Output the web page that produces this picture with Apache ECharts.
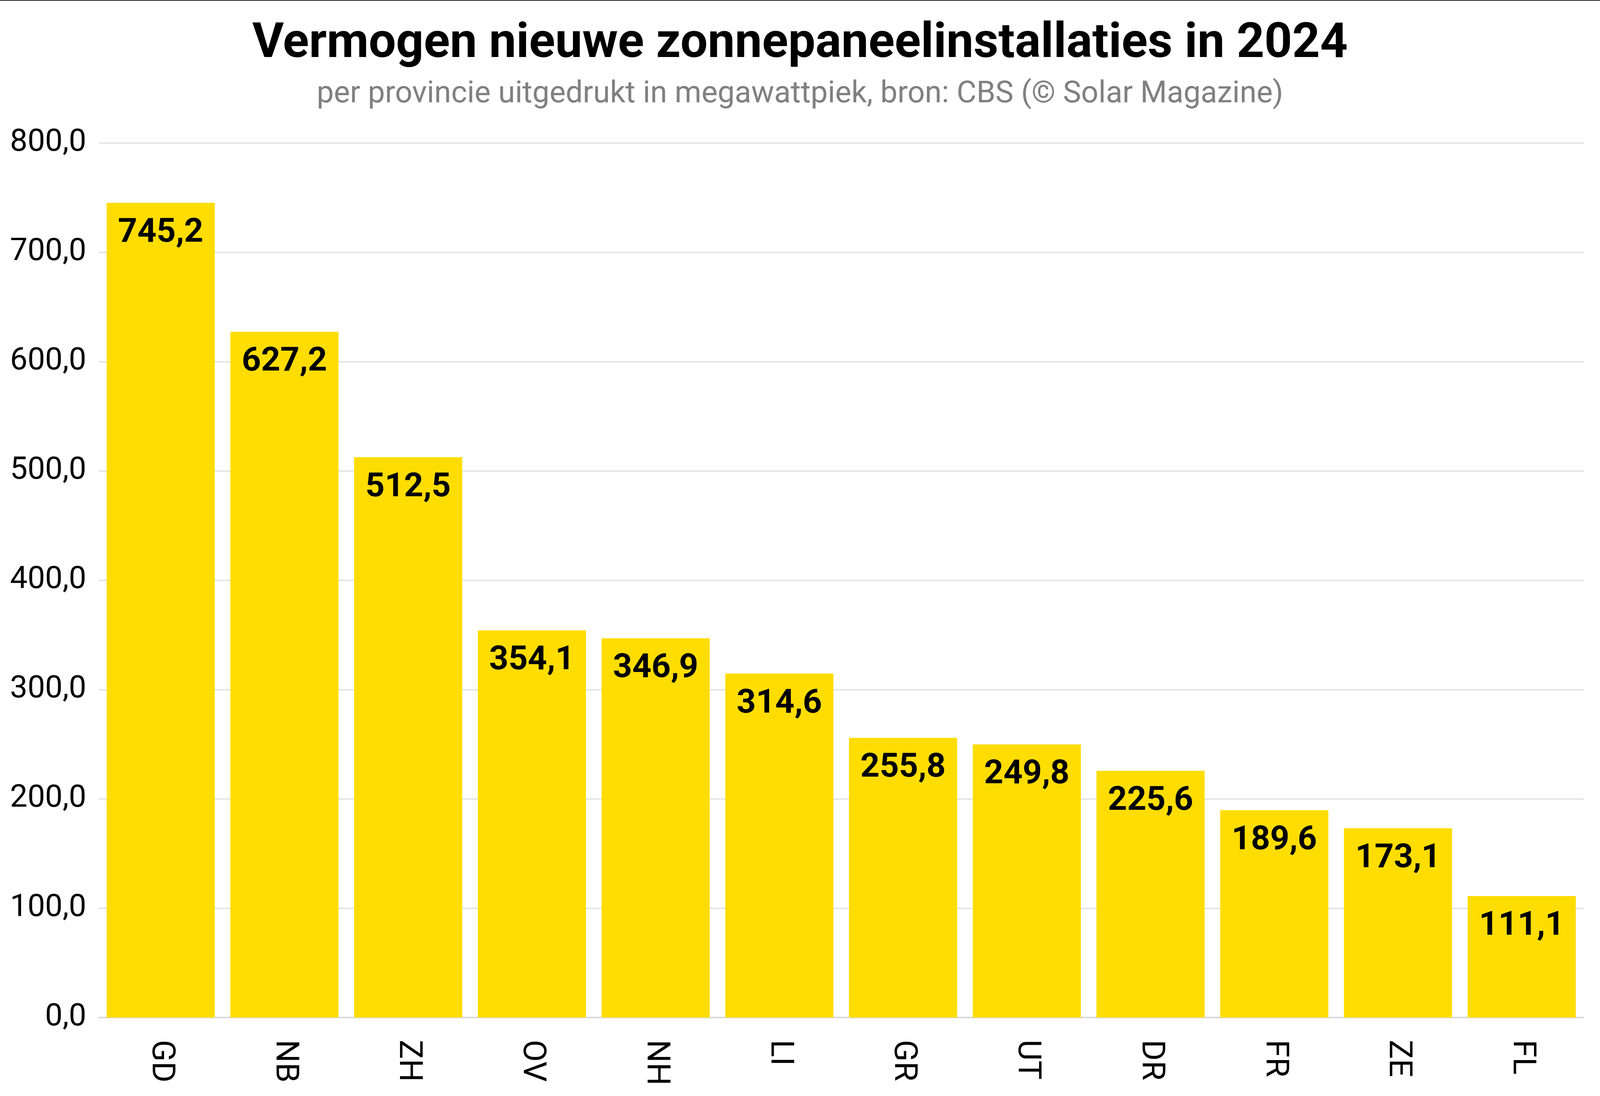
<!DOCTYPE html>
<html>
<head>
<meta charset="utf-8">
<script src="https://cdn.jsdelivr.net/npm/echarts@6/dist/echarts.min.js"></script>
<style>
  html, body { margin: 0; padding: 0; background: #ffffff; overflow: hidden; }
  #chart { width: 100vw; height: 100vh; box-sizing: border-box; border-top: 2px solid #222; }
</style>
</head>
<body>
<div id="chart"></div>
<script>
const titleText = 'Vermogen nieuwe zonnepaneelinstallaties in 2024';
const subtitleText = 'per provincie uitgedrukt in megawattpiek, bron: CBS (© Solar Magazine)';
const categories = ['GD', 'NB', 'ZH', 'OV', 'NH', 'LI', 'GR', 'UT', 'DR', 'FR', 'ZE', 'FL'];
const values = [745.2, 627.2, 512.5, 354.1, 346.9, 314.6, 255.8, 249.8, 225.6, 189.6, 173.1, 111.1];
const yMin = 0, yMax = 800, yStep = 100;

const fmt = v => Number(v).toFixed(1).replace('.', ',');

// layout designed for a 4989 x 2807 canvas; horizontal positions follow the real width
const W = window.innerWidth || 4989;
const sx = W / 4989;
const gridLeft = Math.round(308 * sx);
const gridRight = Math.round(51 * sx);
const yLabelMargin = Math.max(20, Math.round(275 * sx - 194));

const chart = echarts.init(document.getElementById('chart'), null, { renderer: 'canvas' });
chart.setOption({
  backgroundColor: '#ffffff',
  animation: false,
  textStyle: { fontFamily: 'Roboto' },
  title: [
    {
      text: titleText, left: 'center', top: 46,
      textStyle: { fontFamily: 'Roboto', fontWeight: 'bold', fontSize: 124, color: '#000000' }
    },
    {
      text: subtitleText, left: 'center', top: 196,
      textStyle: { fontFamily: 'Roboto', fontWeight: 'normal', fontSize: 78, color: '#808080' }
    }
  ],
  grid: { left: gridLeft, right: gridRight, top: 364, bottom: 201, containLabel: false },
  xAxis: {
    type: 'category',
    data: categories,
    axisLine: { show: true, lineStyle: { color: '#d9d9d9', width: 4 } },
    axisTick: { show: false },
    axisLabel: {
      rotate: -90, margin: 57, fontFamily: 'Roboto', fontSize: 82, color: '#000000'
    }
  },
  yAxis: {
    type: 'value',
    min: yMin, max: yMax, interval: yStep,
    axisLine: { show: false },
    axisTick: { show: false },
    splitLine: { show: true, lineStyle: { color: '#dedede', width: 3 } },
    axisLabel: {
      margin: yLabelMargin, fontFamily: 'Roboto', fontSize: 80, color: '#000000',
      formatter: v => fmt(v)
    }
  },
  series: [{
    type: 'bar',
    data: values,
    barCategoryGap: '12.6%',
    itemStyle: { color: '#FFDD00' },
    label: {
      show: true, position: 'insideTop', distance: 35,
      fontFamily: 'Roboto', fontWeight: 'bold', fontSize: 86, color: '#000000',
      formatter: p => fmt(p.value)
    }
  }]
});
window.addEventListener('resize', () => chart.resize());
</script>
</body>
</html>
